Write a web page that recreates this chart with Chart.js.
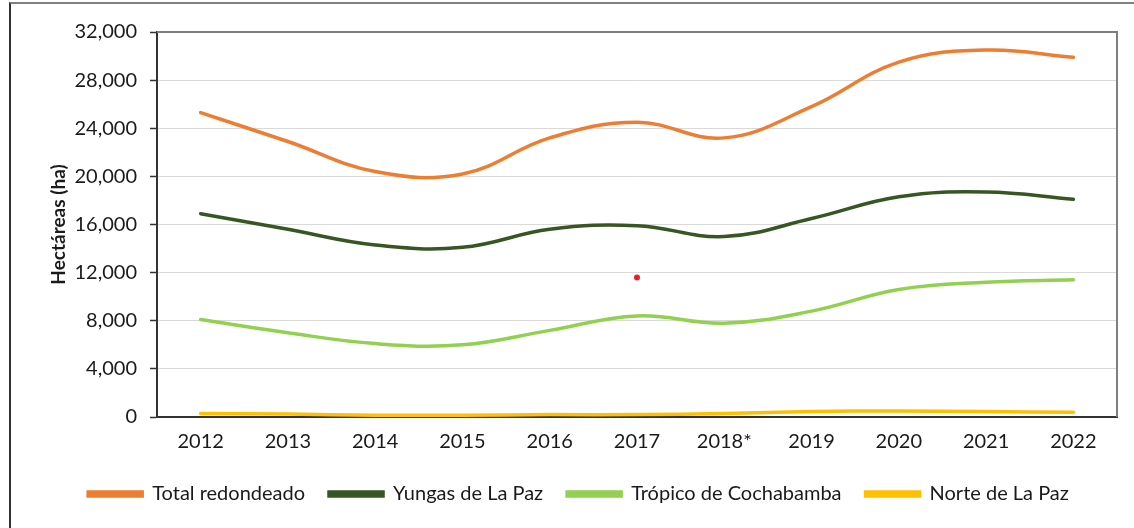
<!DOCTYPE html>
<html>
<head>
<meta charset="utf-8">
<script src="https://cdn.jsdelivr.net/npm/chart.js@4.4.1/dist/chart.umd.min.js"></script>
<style>
  html, body { margin: 0; padding: 0; background: #fff; overflow: hidden; }
  #wrap { position: relative; width: 1134px; height: 528px; }
  #frame { position: absolute; left: 9px; top: 2px; width: 2000px; height: 2000px;
           border-left: 2px solid #333; border-top: 2px solid #808080; pointer-events: none; }
  canvas { position: absolute; left: 0; top: 0; }
</style>
</head>
<body>
<div id="wrap">
  <canvas id="c" width="1134" height="528"></canvas>
  <div id="frame"></div>
</div>
<script>
const categories = ['2012','2013','2014','2015','2016','2017','2018*','2019','2020','2021','2022'];
const totalRedondeado = [25300, 22900, 20400, 20200, 23200, 24500, 23200, 25800, 29500, 30500, 29900];
const yungasLaPaz     = [16900, 15600, 14300, 14100, 15600, 15900, 15000, 16500, 18300, 18700, 18100];
const tropicoCocha    = [8100, 7000, 6100, 6000, 7200, 8400, 7800, 8800, 10600, 11200, 11400];
const norteLaPaz      = [300, 250, 150, 150, 200, 200, 300, 450, 500, 450, 400];
const strayPoint      = [null, null, null, null, null, 11600, null, null, null, null, null];
const yTicks = [0, 4000, 8000, 12000, 16000, 20000, 24000, 28000, 32000];

const FONT = 'Lato, "Open Sans", sans-serif';

const plotBorder = {
  id: 'plotBorder',
  afterDatasetsDraw(chart) {
    const {ctx, chartArea: a} = chart;
    ctx.save();
    ctx.strokeStyle = '#7f7f7f';
    ctx.lineWidth = 2;
    ctx.beginPath();
    ctx.moveTo(a.left, a.top);
    ctx.lineTo(a.right, a.top);
    ctx.lineTo(a.right, a.bottom);
    ctx.stroke();
    ctx.restore();
  }
};

function series(label, data, color) {
  return { label, data, borderColor: color, backgroundColor: color, borderWidth: 3.5,
           pointRadius: 0, tension: 0.4, fill: false, borderCapStyle: 'round' };
}

new Chart(document.getElementById('c'), {
  type: 'line',
  data: {
    labels: categories,
    datasets: [
      series('Total redondeado', totalRedondeado, '#ED7D31'),
      series('Yungas de La Paz', yungasLaPaz, '#375623'),
      series('Trópico de Cochabamba', tropicoCocha, '#92D050'),
      series('Norte de La Paz', norteLaPaz, '#FFC000'),
      { label: '_dot', data: strayPoint, showLine: false, pointRadius: 3, pointBorderWidth: 0,
        pointBackgroundColor: '#E8202A', borderColor: '#E8202A', backgroundColor: '#E8202A' }
    ]
  },
  options: {
    responsive: false,
    animation: false,
    devicePixelRatio: 1,
    layout: { padding: { left: 40, top: 32, right: 17, bottom: 14 } },
    plugins: {
      tooltip: { enabled: false },
      legend: {
        position: 'bottom',
        labels: {
          filter: (item) => item.text !== '_dot',
          boxWidth: 54, boxHeight: 4, padding: 24,
          color: '#1a1a1a',
          font: { family: FONT, size: 20 }
        }
      }
    },
    scales: {
      x: {
        offset: true,
        grid: { display: false, drawTicks: false },
        border: { display: true, color: '#333', width: 2 },
        ticks: { color: '#1a1a1a', padding: 13, maxRotation: 0, font: { family: FONT, size: 20 } },
        afterFit(scale) { scale.height = 43; }
      },
      y: {
        min: 0, max: 32000,
        afterBuildTicks(scale) { scale.ticks = yTicks.map(v => ({ value: v })); },
        grid: { color: '#d9d9d9', lineWidth: 1, tickColor: '#333', tickLength: 7, tickWidth: 1.5 },
        border: { display: true, color: '#333', width: 2 },
        ticks: { color: '#1a1a1a', padding: 13, font: { family: FONT, size: 20 },
                 callback: (v) => Number(v).toLocaleString('en-US') },
        title: { display: true, text: 'Hectáreas (ha)', color: '#1a1a1a',
                 padding: { top: 7, bottom: 0 }, font: { family: FONT, size: 19, weight: 'bold' } },
        afterFit(scale) { scale.width = 117; }
      }
    }
  },
  plugins: [plotBorder]
});
</script>
</body>
</html>
